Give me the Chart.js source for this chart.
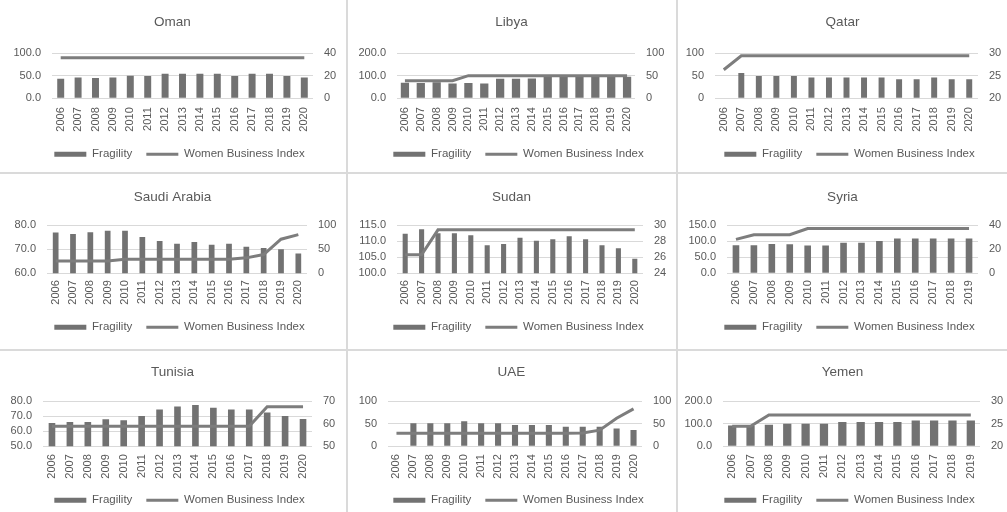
<!DOCTYPE html>
<html>
<head>
<meta charset="utf-8">
<script src="https://cdn.jsdelivr.net/npm/chart.js@4.4.0/dist/chart.umd.min.js"></script>
<style>
  html, body { margin: 0; padding: 0; background: #ffffff; }
  #wrap { position: relative; width: 1007px; height: 512px; overflow: hidden; background: #ffffff; }
  .panel { position: absolute; }
  .rule { position: absolute; background: #dadada; }
</style>
</head>
<body>
<div id="wrap"></div>
<script>
// Years on the category axis
const yearsTo2020 = ['2006','2007','2008','2009','2010','2011','2012','2013','2014','2015','2016','2017','2018','2019','2020'];
const yearsTo2019 = ['2006','2007','2008','2009','2010','2011','2012','2013','2014','2015','2016','2017','2018','2019'];

// Fragility (bars, left axis) and Women Business Index (line, right axis)
const omanFragility = [43, 46, 45, 46, 50, 49, 54, 54, 54, 54, 49, 54, 54, 49, 46];
const omanWbi = [35.9, 35.9, 35.9, 35.9, 35.9, 35.9, 35.9, 35.9, 35.9, 35.9, 35.9, 35.9, 35.9, 35.9, 35.9];

const libyaFragility = [68, 67, 71, 65, 67, 65, 86, 86, 87, 96, 96, 97, 96, 95, 95];
const libyaWbi = [38.8, 38.8, 38.8, 38.8, 50, 50, 50, 50, 50, 50, 50, 50, 50, 50, 50];

const qatarFragility = [null, 56, 49, 49, 49, 46, 46, 46, 46, 46, 42, 42, 46, 42, 42];
const qatarWbi = [26.3, 29.4, 29.4, 29.4, 29.4, 29.4, 29.4, 29.4, 29.4, 29.4, 29.4, 29.4, 29.4, 29.4, 29.4];

const saudiFragility = [76.9, 76.3, 77.0, 77.6, 77.6, 75.0, 73.4, 72.2, 73.0, 71.8, 72.2, 71.0, 70.5, 70.0, 68.2];
const saudiWbi = [25.6, 25.6, 25.6, 25.6, 28.8, 28.8, 28.8, 28.8, 28.8, 28.8, 28.8, 31.9, 38.8, 70.6, 80.0];

const sudanFragility = [112.3, 113.7, 112.4, 112.4, 111.8, 108.7, 109.1, 111.0, 110.1, 110.6, 111.5, 110.6, 108.7, 107.8, 104.5];
const sudanWbi = [26.3, 26.3, 29.4, 29.4, 29.4, 29.4, 29.4, 29.4, 29.4, 29.4, 29.4, 29.4, 29.4, 29.4, 29.4];

const syriaFragility = [87, 87, 91, 90, 86, 86, 95, 95, 100, 108, 108, 108, 108, 108];
const syriaWbi = [28.1, 31.9, 31.9, 31.9, 37, 37, 37, 37, 37, 37, 37, 37, 37, 37];

const tunisiaFragility = [65.4, 66.1, 66.1, 67.9, 67.2, 70.1, 74.4, 76.4, 77.3, 75.5, 74.4, 74.4, 72.4, 70.1, 68.1];
const tunisiaWbi = [58.8, 58.8, 58.8, 58.8, 58.8, 58.8, 58.8, 58.8, 58.8, 58.8, 58.8, 58.8, 67.5, 67.5, 67.5];

const uaeFragility = [null, 51, 51, 51, 55, 51, 51, 47, 47, 47, 43, 43, 43, 39, 36];
const uaeWbi = [28.8, 28.8, 28.8, 28.8, 28.8, 28.8, 28.8, 28.8, 28.8, 28.8, 28.8, 29.4, 35.6, 62, 82.5];

const yemenFragility = [92, 92, 95, 100, 100, 100, 107, 107, 107, 107, 114, 114, 114, 114];
const yemenWbi = [24.4, 24.4, 26.9, 26.9, 26.9, 26.9, 26.9, 26.9, 26.9, 26.9, 26.9, 26.9, 26.9, 26.9];

const seriesNames = ['Fragility', 'Women Business Index'];

// Grid placement of the nine small charts
const cols = [{ x: 0, w: 345 }, { x: 348, w: 327 }, { x: 678, w: 329 }];
const rows = [
  { y: 0,   h: 170, titleTop: 13.9, titleBottom: 22.9, xAxisH: 36.25, tickPad: 9 },
  { y: 173, h: 170, titleTop: 15.9, titleBottom: 19.9, xAxisH: 34.25, tickPad: 7 },
  { y: 350, h: 166, titleTop: 13.9, titleBottom: 20.9, xAxisH: 34.25, tickPad: 8 }
];

const panels = [
  { title: 'Oman', labels: yearsTo2020, frag: omanFragility, wbi: omanWbi,
    left: { min: 0, max: 100, step: 50, dec: 1 }, right: { min: 0, max: 40, step: 20 },
    col: 0, row: 0, axL: 52, axR: 32, bar: 0.40 },
  { title: 'Libya', labels: yearsTo2020, frag: libyaFragility, wbi: libyaWbi,
    left: { min: 0, max: 200, step: 100, dec: 1 }, right: { min: 0, max: 100, step: 50 },
    col: 1, row: 0, axL: 49, axR: 40, bar: 0.52 },
  { title: 'Qatar', labels: yearsTo2020, frag: qatarFragility, wbi: qatarWbi,
    left: { min: 0, max: 100, step: 50, dec: 0 }, right: { min: 20, max: 30, step: 5 },
    col: 2, row: 0, axL: 37, axR: 29, bar: 0.34 },
  { title: 'Saudi Arabia', labels: yearsTo2020, frag: saudiFragility, wbi: saudiWbi,
    left: { min: 60, max: 80, step: 10, dec: 1 }, right: { min: 0, max: 100, step: 50 },
    col: 0, row: 1, axL: 47, axR: 38, bar: 0.33 },
  { title: 'Sudan', labels: yearsTo2020, frag: sudanFragility, wbi: sudanWbi,
    left: { min: 100, max: 115, step: 5, dec: 1 }, right: { min: 24, max: 30, step: 2 },
    col: 1, row: 1, axL: 49, axR: 32, bar: 0.31 },
  { title: 'Syria', labels: yearsTo2019, frag: syriaFragility, wbi: syriaWbi,
    left: { min: 0, max: 150, step: 50, dec: 1 }, right: { min: 0, max: 40, step: 20 },
    col: 2, row: 1, axL: 49, axR: 29, bar: 0.37 },
  { title: 'Tunisia', labels: yearsTo2020, frag: tunisiaFragility, wbi: tunisiaWbi,
    left: { min: 50, max: 80, step: 10, dec: 1 }, right: { min: 50, max: 70, step: 10 },
    col: 0, row: 2, axL: 43, axR: 33, bar: 0.37 },
  { title: 'UAE', labels: yearsTo2020, frag: uaeFragility, wbi: uaeWbi,
    left: { min: 0, max: 100, step: 50, dec: 0 }, right: { min: 0, max: 100, step: 50 },
    col: 1, row: 2, axL: 40, axR: 33, bar: 0.36 },
  { title: 'Yemen', labels: yearsTo2019, frag: yemenFragility, wbi: yemenWbi,
    left: { min: 0, max: 200, step: 100, dec: 1 }, right: { min: 20, max: 30, step: 5 },
    col: 2, row: 2, axL: 45, axR: 27, bar: 0.45 }
];

const FONT = "'Liberation Sans', Arial, sans-serif";
const TEXT = '#595959';
const GRID = '#d9d9d9';
const BAR = '#727272';
const LINE = '#7d7d7d';

// Nudges the bottom legend a little to the right of centre
const legendShift = {
  id: 'legendShift',
  afterLayout(chart) {
    const lg = chart.legend;
    if (lg) { lg.left += 7; lg.right += 7; }
  }
};

const wrap = document.getElementById('wrap');

// Separator rules between the charts
[{ x: 346, y: 0, w: 2, h: 512 }, { x: 676, y: 0, w: 2, h: 512 },
 { x: 0, y: 172, w: 1007, h: 2 }, { x: 0, y: 349, w: 1007, h: 2 }].forEach(r => {
  const d = document.createElement('div');
  d.className = 'rule';
  d.style.left = r.x + 'px'; d.style.top = r.y + 'px';
  d.style.width = r.w + 'px'; d.style.height = r.h + 'px';
  wrap.appendChild(d);
});

panels.forEach(p => {
  const c = cols[p.col], r = rows[p.row];
  const box = document.createElement('div');
  box.className = 'panel';
  box.style.left = c.x + 'px'; box.style.top = r.y + 'px';
  box.style.width = c.w + 'px'; box.style.height = r.h + 'px';
  const cv = document.createElement('canvas');
  cv.width = c.w; cv.height = r.h;
  box.appendChild(cv);
  wrap.appendChild(box);

  new Chart(cv, {
    data: {
      labels: p.labels,
      datasets: [
        { type: 'line', label: seriesNames[1], data: p.wbi, yAxisID: 'y1',
          borderColor: LINE, borderWidth: 3, pointRadius: 0, tension: 0, order: 0 },
        { type: 'bar', label: seriesNames[0], data: p.frag, yAxisID: 'y',
          backgroundColor: BAR, barPercentage: p.bar, categoryPercentage: 1.0, order: 1 }
      ]
    },
    plugins: [legendShift],
    options: {
      responsive: false,
      animation: false,
      events: [],
      layout: { padding: 0 },
      plugins: {
        tooltip: { enabled: false },
        title: {
          display: true, text: p.title, color: TEXT,
          font: { family: FONT, size: 13.5, weight: 'normal' },
          padding: { top: r.titleTop, bottom: r.titleBottom }
        },
        legend: {
          display: true, position: 'bottom',
          labels: {
            color: TEXT, font: { family: FONT, size: 11.5 },
            usePointStyle: true, pointStyleWidth: 32, boxHeight: 5, padding: 14,
            generateLabels: () => [
              { text: seriesNames[0], fillStyle: BAR, strokeStyle: BAR, lineWidth: 0,
                pointStyle: 'rect', datasetIndex: 1, hidden: false, fontColor: TEXT },
              { text: seriesNames[1], fillStyle: LINE, strokeStyle: LINE, lineWidth: 3,
                pointStyle: 'line', datasetIndex: 0, hidden: false, fontColor: TEXT }
            ]
          }
        }
      },
      scales: {
        x: {
          grid: { display: false, drawTicks: false },
          border: { display: false },
          ticks: { color: TEXT, font: { family: FONT, size: 11 }, autoSkip: false,
                   minRotation: 90, maxRotation: 90, padding: r.tickPad },
          afterFit: s => { s.height = r.xAxisH; }
        },
        y: {
          position: 'left',
          min: p.left.min, max: p.left.max,
          grid: { color: GRID, lineWidth: 1, drawTicks: false },
          border: { display: false },
          ticks: { color: TEXT, font: { family: FONT, size: 11 }, stepSize: p.left.step, padding: 11,
                   autoSkip: false, callback: v => Number(v).toFixed(p.left.dec) },
          afterFit: s => { s.width = p.axL; }
        },
        y1: {
          position: 'right',
          min: p.right.min, max: p.right.max,
          grid: { display: false, drawTicks: false },
          border: { display: false },
          ticks: { color: TEXT, font: { family: FONT, size: 11 }, stepSize: p.right.step, padding: 11,
                   autoSkip: false, callback: v => String(v) },
          afterFit: s => { s.width = p.axR; }
        }
      }
    }
  });
});
</script>
</body>
</html>
